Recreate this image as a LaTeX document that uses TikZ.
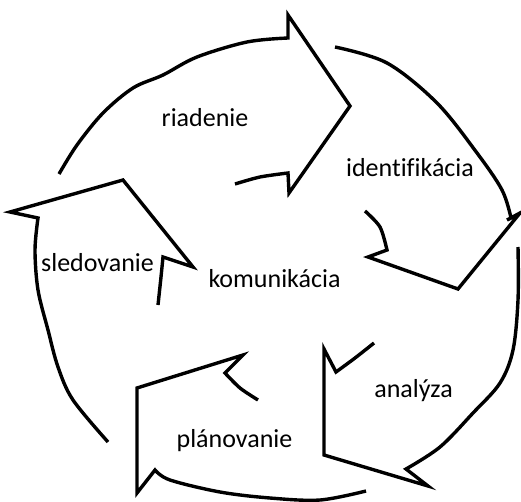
\documentclass[tikz,border=0pt]{standalone}
\usepackage{fontspec}
\setmainfont[Ligatures=NoCommon]{Carlito}
\begin{document}
\begin{tikzpicture}[x=1pt,y=-1pt,
  arrowline/.style={draw=black,line width=3.4pt,line join=miter,line cap=butt},
  lbl/.style={anchor=base,inner sep=0pt,font=\fontsize{26}{30}\selectfont,text=black}]
\useasboundingbox (0,0) rectangle (521,502);
% arrow 1 (riadenie)
\draw[arrowline] plot[smooth,tension=0.55] coordinates {(59,174) (77,145) (103,113) (133,88) (163,75) (197,57) (247,42) (288,38)}
  -- (288,15) -- (350,106) -- (289,193) -- (288,173)
  -- plot[smooth] coordinates {(288,173) (260,177) (235,184)};
% arrow 2 (identifikacia)
\draw[arrowline] plot[smooth,tension=0.55] coordinates {(335,47) (387,63) (437,103) (477,153) (502,190) (511,218)}
  -- (507,220) -- (520,213) -- (458,289) -- (368,257) -- (387,250)
  -- plot[smooth] coordinates {(387,250) (380,227) (365,211)};
% arrow 3 (analyza)
\draw[arrowline] plot[smooth,tension=0.55] coordinates {(518,247) (518,300) (513,350) (500,383) (473,413) (440,447) (406,469)}
  -- (428,486) -- (324,455) -- (324,349) -- (336,372)
  -- plot[smooth] coordinates {(336,372) (355,358) (374,343)};
% arrow 4 (planovanie)
\draw[arrowline] plot[smooth,tension=0.55] coordinates {(366,491) (320,500) (270,498) (220,492) (170,480) (155,470)}
  -- (137,493) -- (137,388) -- (243,355) -- (225,373)
  -- plot[smooth] coordinates {(225,373) (240,388) (258,400)};
% arrow 5 (sledovanie)
\draw[arrowline] plot[smooth,tension=0.55] coordinates {(108,442) (73,400) (58,367) (48,330) (38,290) (35,250) (38,218)}
  -- (10,212) -- (123,180) -- (193,267) -- (163,257)
  -- plot[smooth] coordinates {(163,257) (161,277) (158,305)};
% labels
\node[lbl] (riadenie) at (205,127) {riadenie};
\node[lbl] (ident) at (410,177) {identifikácia};
\node[lbl] (sled) at (97.5,271) {sledovanie};
\node[lbl] (komun) at (274.5,287) {komunikácia};
\node[lbl] (analyza) at (413.5,397) {analýza};
\node[lbl] (plan) at (234.5,447) {plánovanie};
\end{tikzpicture}
\end{document}
